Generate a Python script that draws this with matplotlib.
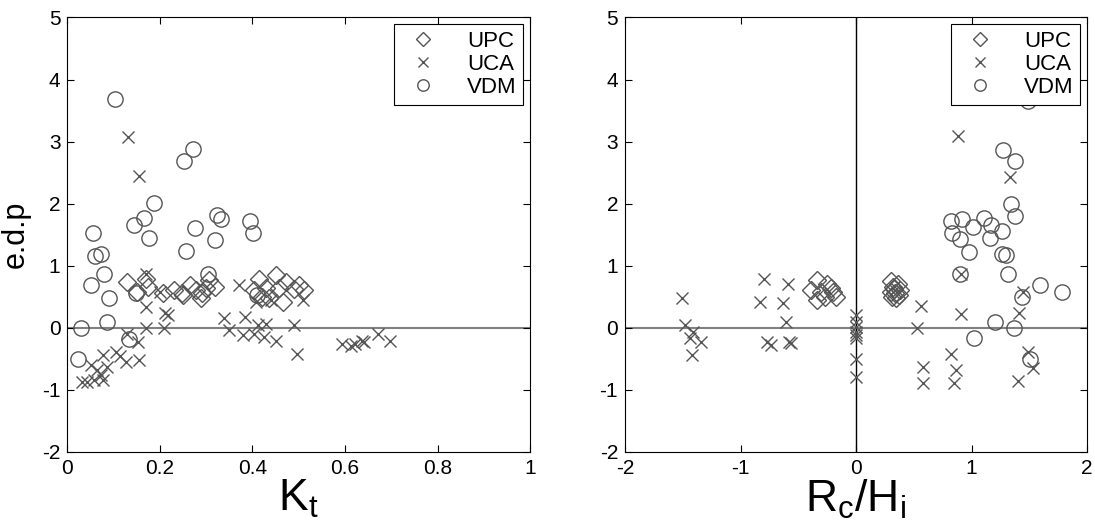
import matplotlib
matplotlib.use("Agg")
import matplotlib.pyplot as plt

plt.rcParams['font.family'] = ['Liberation Sans', 'DejaVu Sans']
plt.rcParams['mathtext.fontset'] = 'custom'
plt.rcParams['mathtext.rm'] = 'Liberation Sans'
plt.rcParams['mathtext.it'] = 'Liberation Sans'
plt.rcParams['axes.unicode_minus'] = False

# ---- left panel: e.d.p vs K_t ----
kt_upc = [0.128, 0.150, 0.171, 0.175, 0.207, 0.230, 0.247, 0.249, 0.264, 0.278,
          0.289, 0.300, 0.307, 0.290, 0.320, 0.404, 0.414, 0.420, 0.429, 0.436,
          0.450, 0.458, 0.465, 0.472, 0.490, 0.500, 0.511]
edp_upc_l = [0.74, 0.58, 0.79, 0.65, 0.55, 0.60, 0.55, 0.52, 0.68, 0.60,
             0.47, 0.63, 0.76, 0.55, 0.66, 0.60, 0.79, 0.50, 0.63, 0.47,
             0.84, 0.63, 0.41, 0.74, 0.62, 0.68, 0.60]

kt_uca = [0.131, 0.154, 0.171, 0.200, 0.171, 0.212, 0.217, 0.171, 0.209, 0.128,
          0.152, 0.077, 0.105, 0.114, 0.127, 0.154, 0.051, 0.064, 0.073, 0.085,
          0.032, 0.042, 0.057, 0.078, 0.371, 0.339, 0.384, 0.350, 0.379, 0.404,
          0.429, 0.425, 0.450, 0.411, 0.490, 0.497, 0.509, 0.594, 0.612, 0.622,
          0.637, 0.640, 0.672, 0.698, 0.407, 0.440]
edp_uca_l = [3.08, 2.44, 0.87, 0.57, 0.33, 0.23, 0.20, 0.00, 0.00, -0.11,
             -0.23, -0.44, -0.40, -0.46, -0.55, -0.53, -0.61, -0.69, -0.77, -0.64,
             -0.88, -0.88, -0.85, -0.85, 0.69, 0.15, 0.17, -0.04, -0.12, -0.10,
             0.06, -0.15, -0.21, 0.04, 0.04, -0.42, 0.44, -0.27, -0.29, -0.26,
             -0.22, -0.23, -0.10, -0.22, 0.41, 0.45]

kt_vdm = [0.103, 0.253, 0.272, 0.187, 0.166, 0.143, 0.176, 0.056, 0.060, 0.072,
          0.275, 0.324, 0.333, 0.320, 0.257, 0.395, 0.402, 0.080, 0.051, 0.090,
          0.148, 0.085, 0.029, 0.133, 0.023, 0.303, 0.410]
edp_vdm_l = [3.68, 2.69, 2.88, 2.01, 1.76, 1.65, 1.45, 1.53, 1.16, 1.18,
             1.61, 1.81, 1.75, 1.41, 1.23, 1.72, 1.53, 0.86, 0.68, 0.48,
             0.56, 0.09, 0.00, -0.19, -0.50, 0.86, 0.53]

# ---- right panel: e.d.p vs Rc/Hi ----
rh_upc = [-0.34, -0.39, -0.34, -0.25, -0.20, -0.17, -0.27, -0.30, -0.22,
          0.30, 0.32, 0.34, 0.36, 0.38, 0.31, 0.35, 0.33, 0.37, 0.30]
edp_upc_r = [0.77, 0.60, 0.44, 0.71, 0.58, 0.50, 0.50, 0.58, 0.63,
             0.75, 0.65, 0.55, 0.70, 0.60, 0.50, 0.48, 0.62, 0.52, 0.58]

rh_uca = [-1.51, -1.48, -1.41, -1.44, -1.34, -1.42,
          -0.80, -0.59, -0.83, -0.63, -0.61, -0.77, -0.74, -0.58, -0.56,
          0.0, 0.0, 0.0, 0.0, 0.0, 0.0, 0.0, 0.0,
          0.886, 1.33, 0.56, 0.53, 0.91, 1.45, 1.41, 0.82, 0.58, 0.87,
          0.58, 0.85, 1.40, 1.49, 1.53, 0.91]
edp_uca_r = [0.47, 0.04, -0.07, -0.17, -0.23, -0.44,
             0.78, 0.70, 0.41, 0.39, 0.09, -0.23, -0.28, -0.23, -0.25,
             0.20, 0.09, 0.01, -0.07, -0.12, -0.17, -0.50, -0.79,
             3.09, 2.43, 0.34, 0.00, 0.22, 0.58, 0.23, -0.42, -0.63, -0.69,
             -0.90, -0.90, -0.87, -0.39, -0.66, 0.86]

rh_vdm = [1.49, 1.275, 1.38, 1.34, 1.38, 0.82, 0.92, 1.01, 1.11, 1.17,
          1.26, 0.83, 0.90, 1.16, 0.98, 1.26, 1.30, 0.90, 1.32, 1.59,
          1.78, 1.44, 1.20, 1.37, 1.02, 1.51]
edp_vdm_r = [3.65, 2.87, 2.69, 2.00, 1.80, 1.72, 1.75, 1.62, 1.76, 1.65,
             1.55, 1.52, 1.42, 1.45, 1.22, 1.19, 1.17, 0.86, 0.86, 0.69,
             0.58, 0.49, 0.09, -0.01, -0.17, -0.50]

MCOL = '#555555'

fig = plt.figure(figsize=(10.95, 5.30), dpi=100)
ax1 = fig.add_axes([0.0615, 0.148, 0.4226, 0.819])
ax2 = fig.add_axes([0.5708, 0.148, 0.4219, 0.819])


def draw_panel(ax, x_upc, y_upc, x_uca, y_uca, x_vdm, y_vdm):
    ax.plot(x_upc, y_upc, linestyle='none', marker='D', ms=9.5, mfc='none',
            mec=MCOL, mew=1.0, label='UPC')
    ax.plot(x_uca, y_uca, linestyle='none', marker='x', ms=9, mec=MCOL,
            mew=1.0, label='UCA')
    ax.plot(x_vdm, y_vdm, linestyle='none', marker='o', ms=11, mfc='none',
            mec=MCOL, mew=1.0, label='VDM')
    ax.axhline(0, color='#808080', lw=1.5, zorder=0)
    ax.set_ylim(-2, 5)
    ax.set_yticks(range(-2, 6))
    ax.tick_params(direction='in', top=True, right=True, length=5,
                   labelsize=15, width=0.8, pad=5)
    for s in ax.spines.values():
        s.set_linewidth(0.8)
    leg = ax.legend(loc='upper right', numpoints=1, fontsize=16,
                    fancybox=False, framealpha=1, edgecolor='black',
                    borderaxespad=0.3, handletextpad=1.0, labelspacing=0.1,
                    borderpad=0.3, handlelength=2.0, markerscale=0.75)
    leg.get_frame().set_linewidth(0.8)


draw_panel(ax1, kt_upc, edp_upc_l, kt_uca, edp_uca_l, kt_vdm, edp_vdm_l)
ax1.set_xlim(0, 1)
ax1.set_xticks([0, 0.2, 0.4, 0.6, 0.8, 1])
ax1.set_xticklabels(['0', '0.2', '0.4', '0.6', '0.8', '1'])
ax1.set_xlabel(r'$\mathrm{K_t}$', fontsize=32, labelpad=0)
ax1.set_ylabel('e.d.p', fontsize=22, labelpad=8)

draw_panel(ax2, rh_upc, edp_upc_r, rh_uca, edp_uca_r, rh_vdm, edp_vdm_r)
ax2.axvline(0, color='black', lw=1.0, zorder=0)
ax2.set_xlim(-2, 2)
ax2.set_xticks([-2, -1, 0, 1, 2])
ax2.set_xlabel(r'$\mathrm{R_c/H_i}$', fontsize=32, labelpad=0)

fig.savefig('out.png', dpi=100)
